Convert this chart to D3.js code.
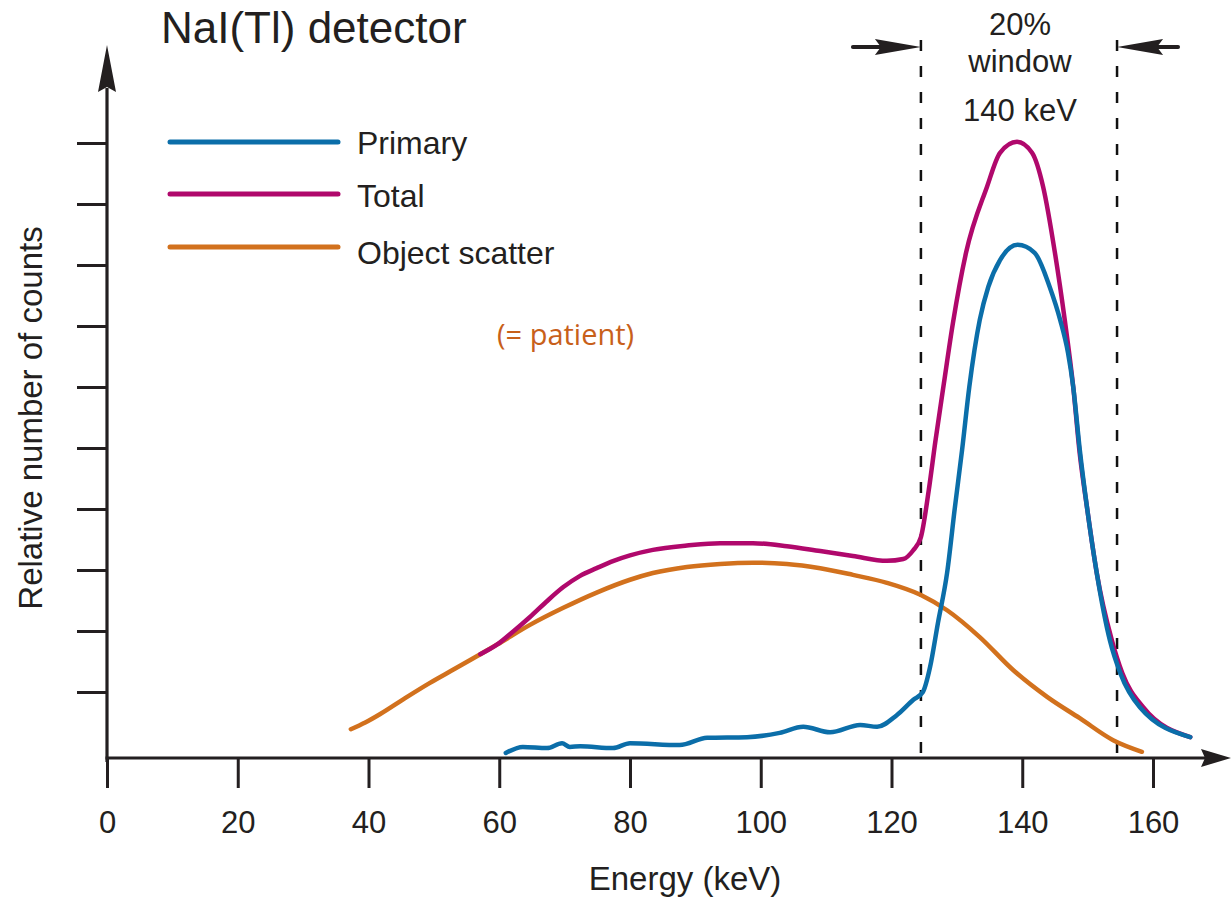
<!DOCTYPE html>
<html>
<head>
<meta charset="utf-8">
<script src="https://cdn.jsdelivr.net/npm/d3@7"></script>
<style>
  html, body { margin: 0; padding: 0; background: #ffffff; }
  svg { display: block; }
  text { font-family: "Liberation Sans", Arial, Helvetica, sans-serif; fill: #231f20; }
</style>
</head>
<body>
<div id="chart"></div>
<script>
// ---------------- data ----------------
const title = "NaI(Tl) detector";
const xLabel = "Energy (keV)";
const yLabel = "Relative number of counts";
const xTickValues = [0, 20, 40, 60, 80, 100, 120, 140, 160];
const yTickValues = [1, 2, 3, 4, 5, 6, 7, 8, 9, 10];
const seriesNames = ["Primary", "Total", "Object scatter"];
const seriesColors = ["#0b6ea9", "#b0086c", "#d2711d"];
const windowEdges = [124.5, 154.5];
const windowLabels = ["20%", "window", "140 keV"];
const noteText = "(= patient)";

const primaryE = [61.0, 63.6, 67.3, 69.6, 70.8, 72.4, 77.4, 80.0, 87.6, 91.8, 97.9, 102.9, 106.5, 110.6, 115.2, 117.8, 120.8, 123.3, 124.8, 125.9, 127.1, 128.5, 129.7, 130.8, 131.9, 133.5, 134.8, 136.6, 139.3, 141.9, 144.2, 145.8, 147.0, 147.8, 148.8, 149.9, 151.4, 153.4, 155.0, 158.0, 165.7];
const primaryV = [0.0, 0.10, 0.08, 0.16, 0.10, 0.11, 0.08, 0.16, 0.13, 0.25, 0.26, 0.33, 0.43, 0.34, 0.46, 0.43, 0.62, 0.87, 1.0, 1.41, 2.13, 2.95, 4.03, 4.97, 6.0, 7.10, 7.64, 8.08, 8.33, 8.20, 7.64, 7.10, 6.56, 6.0, 4.97, 4.03, 2.95, 1.85, 1.31, 0.75, 0.26];

const totalE = [57.1, 59.7, 62.0, 64.7, 67.2, 69.8, 72.3, 74.9, 77.5, 80.0, 83.5, 88.7, 93.8, 98.8, 104.0, 109.1, 114.1, 119.3, 121.8, 123.3, 124.5, 125.7, 126.7, 128.0, 129.4, 131.4, 134.6, 136.6, 139.2, 141.5, 143.2, 145.0, 146.5, 147.8, 148.8, 149.9, 151.4, 153.7, 155.3, 158.5, 165.7];
const totalV = [1.62, 1.78, 1.98, 2.23, 2.48, 2.72, 2.90, 3.03, 3.15, 3.24, 3.33, 3.40, 3.44, 3.44, 3.39, 3.31, 3.23, 3.15, 3.18, 3.32, 3.54, 4.31, 5.10, 6.05, 7.05, 8.20, 9.28, 9.84, 10.02, 9.84, 9.28, 8.20, 7.10, 6.0, 4.9, 4.03, 2.95, 1.85, 1.31, 0.75, 0.26];

const scatterE = [37.3, 39.5, 41.8, 45.6, 49.4, 53.2, 57.1, 59.7, 64.7, 69.8, 74.9, 80.0, 83.5, 88.7, 93.8, 98.8, 104.0, 109.1, 114.1, 119.3, 124.5, 128.5, 133.5, 138.6, 143.8, 148.8, 153.9, 158.3];
const scatterV = [0.39, 0.50, 0.64, 0.90, 1.15, 1.38, 1.62, 1.78, 2.10, 2.38, 2.63, 2.84, 2.95, 3.05, 3.10, 3.12, 3.10, 3.03, 2.92, 2.79, 2.59, 2.34, 1.90, 1.36, 0.92, 0.57, 0.21, 0.02];

// ---------------- layout ----------------
const W = 1232, H = 897;
const axisY = 758;      // pixel row of the drawn energy axis
const axisX = 107;      // pixel column of the drawn counts axis
const ink = "#231f20";

const svg = d3.select("#chart").append("svg").attr("width", W).attr("height", H);

const x = d3.scaleLinear().domain([0, 160]).range([107, 1153]);
const y = d3.scaleLinear().domain([0, 10]).range([753, 143]);

// ---------------- axes ----------------
const xAxis = d3.axisBottom(x).tickValues(xTickValues).tickSize(30).tickSizeOuter(0).tickPadding(23);
const gx = svg.append("g").attr("transform", `translate(0,${axisY})`).call(xAxis);
gx.select(".domain").remove();
gx.selectAll(".tick line").attr("stroke", ink).attr("stroke-width", 3);
gx.selectAll(".tick text").style("font-family", "'Liberation Sans', Arial, sans-serif")
  .style("font-size", "31px").attr("fill", ink);

svg.append("line").attr("x1", axisX - 1.5).attr("x2", 1205).attr("y1", axisY).attr("y2", axisY)
  .attr("stroke", ink).attr("stroke-width", 3.2);
svg.append("path").attr("d", `M1231,${axisY} L1201,${axisY - 9} L1205,${axisY} L1201,${axisY + 9} Z`).attr("fill", ink);

const yAxis = d3.axisLeft(y).tickValues(yTickValues).tickSize(30).tickSizeOuter(0).tickFormat("");
const gy = svg.append("g").attr("transform", `translate(${axisX},0)`).call(yAxis);
gy.select(".domain").remove();
gy.selectAll(".tick line").attr("stroke", ink).attr("stroke-width", 3);

svg.append("line").attr("x1", axisX).attr("x2", axisX).attr("y1", axisY + 4).attr("y2", 88)
  .attr("stroke", ink).attr("stroke-width", 3.2);
svg.append("path").attr("d", `M${axisX},45 L${axisX - 9},92 L${axisX},87 L${axisX + 9},92 Z`).attr("fill", ink);

// axis titles
svg.append("text").attr("x", 685).attr("y", 890).attr("text-anchor", "middle")
  .style("font-size", "33px").text(xLabel);
svg.append("text").attr("transform", "translate(42,418) rotate(-90)").attr("text-anchor", "middle")
  .style("font-size", "33px").text(yLabel);

// title
svg.append("text").attr("x", 161).attr("y", 43).style("font-size", "44px").text(title);

// ---------------- energy window ----------------
windowEdges.forEach(e => {
  svg.append("line").attr("x1", x(e)).attr("x2", x(e)).attr("y1", 40).attr("y2", axisY)
    .attr("stroke", "#111").attr("stroke-width", 2.5).attr("stroke-dasharray", "11,15");
});
// inward arrows
const lx = x(windowEdges[0]), rx = x(windowEdges[1]), ay = 47;
svg.append("line").attr("x1", lx - 68).attr("x2", lx - 38).attr("y1", ay).attr("y2", ay)
  .attr("stroke", ink).attr("stroke-width", 4).attr("stroke-linecap", "round");
svg.append("path").attr("d", `M${lx},${ay} L${lx - 46},${ay - 8} L${lx - 40},${ay} L${lx - 46},${ay + 8} Z`).attr("fill", ink);
svg.append("line").attr("x1", rx + 61).attr("x2", rx + 38).attr("y1", ay).attr("y2", ay)
  .attr("stroke", ink).attr("stroke-width", 4).attr("stroke-linecap", "round");
svg.append("path").attr("d", `M${rx},${ay} L${rx + 46},${ay - 8} L${rx + 40},${ay} L${rx + 46},${ay + 8} Z`).attr("fill", ink);

const wlY = [35, 72, 121];
windowLabels.forEach((t, i) => {
  svg.append("text").attr("x", (lx + rx) / 2 + 1).attr("y", wlY[i]).attr("text-anchor", "middle")
    .style("font-size", "31px").text(t);
});

// ---------------- curves ----------------
const line = d3.line().x(d => x(d[0])).y(d => y(d[1])).curve(d3.curveMonotoneX);
const zip = (a, b) => a.map((v, i) => [v, b[i]]);

const seriesData = [zip(primaryE, primaryV), zip(totalE, totalV), zip(scatterE, scatterV)];
// draw order: scatter, total, primary (primary on top)
[2, 1, 0].forEach(i => {
  svg.append("path").datum(seriesData[i]).attr("d", line)
    .attr("fill", "none").attr("stroke", seriesColors[i]).attr("stroke-width", 4.5)
    .attr("stroke-linecap", "round").attr("stroke-linejoin", "round");
});

// ---------------- legend ----------------
const legY = [142, 194, 247];
const legTextY = [154, 207, 264];
seriesNames.forEach((n, i) => {
  svg.append("line").attr("x1", 170).attr("x2", 338).attr("y1", legY[i]).attr("y2", legY[i])
    .attr("stroke", seriesColors[i]).attr("stroke-width", 5).attr("stroke-linecap", "round");
  svg.append("text").attr("x", 357).attr("y", legTextY[i]).style("font-size", "32px").text(n);
});

svg.append("text").attr("x", 497).attr("y", 345)
  .style("font-family", "'Open Sans', 'Noto Sans', sans-serif").style("font-size", "29px")
  .style("fill", "#c8601a").text(noteText);
</script>
</body>
</html>
